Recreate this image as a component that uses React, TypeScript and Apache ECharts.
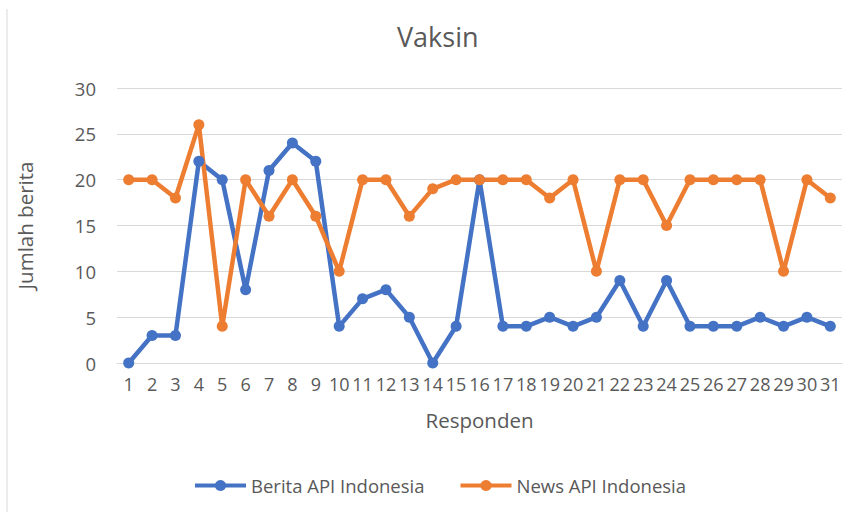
import React, { useEffect, useRef } from "react";
import * as echarts from "echarts";

const categories = Array.from({ length: 31 }, (_, i) => String(i + 1));
const beritaApi = [0, 3, 3, 22, 20, 8, 21, 24, 22, 4, 7, 8, 5, 0, 4, 20, 4, 4, 5, 4, 5, 9, 4, 9, 4, 4, 4, 5, 4, 5, 4];
const newsApi = [20, 20, 18, 26, 4, 20, 16, 20, 16, 10, 20, 20, 16, 19, 20, 20, 20, 20, 18, 20, 10, 20, 20, 15, 20, 20, 20, 20, 10, 20, 18];
const seriesNames = ["Berita API Indonesia", "News API Indonesia"];
const colors = ["#4472C4", "#ED7D31"];

const FONT = "'Open Sans', 'Noto Sans', sans-serif";
const TEXT = "#595959";

export default function App() {
  const ref = useRef<HTMLDivElement>(null);
  useEffect(() => {
    if (!ref.current) return;
    const chart = echarts.init(ref.current, null, { renderer: "svg" });
    chart.setOption({
      animation: false,
      backgroundColor: "#ffffff",
      textStyle: { fontFamily: FONT, color: TEXT },
      title: {
        text: "Vaksin",
        left: 392,
        top: 18,
        textStyle: { fontFamily: FONT, fontSize: 27, fontWeight: "normal", color: TEXT },
      },
      graphic: [
        {
          type: "line",
          shape: { x1: 7, y1: 9, x2: 7, y2: 512 },
          style: { stroke: "#d9d9d9", lineWidth: 1 },
        },
      ],
      legend: {
        top: 471,
        left: 188,
        itemWidth: 51,
        itemHeight: 14,
        itemGap: 34,
        lineStyle: { width: 4 },
        textStyle: { fontFamily: FONT, fontSize: 18.5, color: TEXT },
        data: seriesNames,
      },
      grid: { left: 117, right: 14, top: 88, bottom: 149 },
      xAxis: {
        type: "category",
        data: categories,
        boundaryGap: true,
        name: "Responden",
        nameLocation: "middle",
        nameGap: 46,
        nameTextStyle: { fontFamily: FONT, fontSize: 20.5, color: TEXT },
        axisLine: { lineStyle: { color: "#d9d9d9", width: 1 } },
        axisTick: { show: false },
        axisLabel: { interval: 0, fontFamily: FONT, fontSize: 18, color: TEXT, margin: 12 },
      },
      yAxis: {
        type: "value",
        min: 0,
        max: 30,
        interval: 5,
        name: "Jumlah berita",
        nameLocation: "middle",
        nameGap: 82,
        nameTextStyle: { fontFamily: FONT, fontSize: 20.5, color: TEXT },
        axisLine: { show: false },
        axisTick: { show: false },
        axisLabel: { fontFamily: FONT, fontSize: 18.5, color: TEXT, margin: 21 },
        splitLine: { lineStyle: { color: "#d9d9d9", width: 1 } },
      },
      series: [
        {
          name: seriesNames[0],
          type: "line",
          data: beritaApi,
          color: colors[0],
          symbol: "circle",
          symbolSize: 11,
          lineStyle: { width: 4.5, color: colors[0] },
          itemStyle: { color: colors[0] },
        },
        {
          name: seriesNames[1],
          type: "line",
          data: newsApi,
          color: colors[1],
          symbol: "circle",
          symbolSize: 11,
          lineStyle: { width: 4.5, color: colors[1] },
          itemStyle: { color: colors[1] },
        },
      ],
    });
    return () => chart.dispose();
  }, []);
  return (
    <div
      ref={ref}
      style={{ position: "absolute", left: 0, top: 0, width: 856, height: 512 }}
    />
  );
}
